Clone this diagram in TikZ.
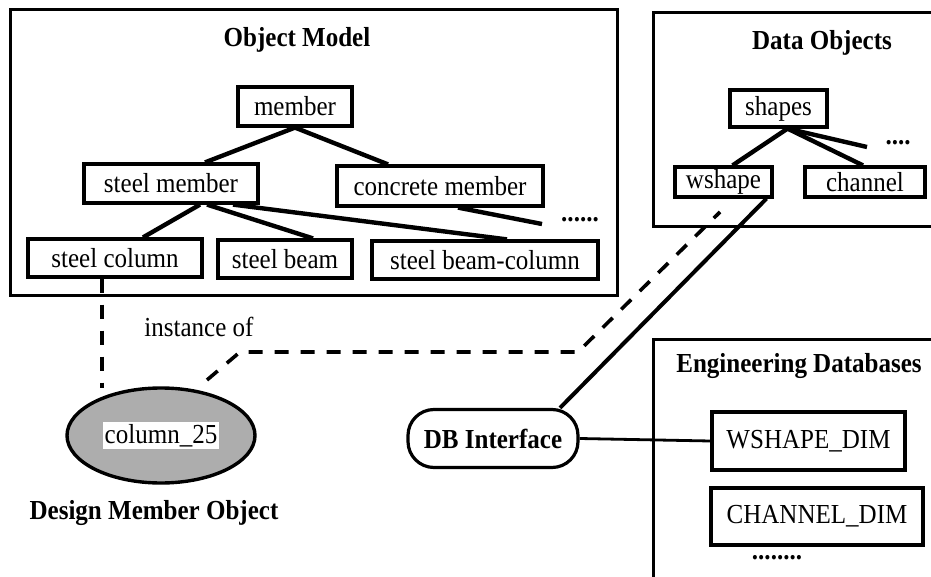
\documentclass[tikz,border=0pt]{standalone}
\usepackage{fontspec}
\setmainfont[FakeStretch=0.91]{Liberation Serif}
\usetikzlibrary{shapes.geometric,calc}
\begin{document}
\begin{tikzpicture}[x=1pt,y=-1pt,
  txt/.style={font=\fontsize{27.5}{30}\selectfont, inner sep=0pt},
  ttl/.style={font=\fontsize{27.5}{30}\selectfont\bfseries, inner sep=0pt},
  cls/.style={draw, line width=3.2pt, inner sep=0pt, font=\fontsize{27.5}{30}\selectfont},
  grp/.style={draw, line width=3pt},
  tree/.style={line width=4.4pt},
  inst/.style={line width=3.6pt, dash pattern=on 14pt off 12pt},
  link/.style={line width=4pt}]
\useasboundingbox (0,0) rectangle (931,577);
\clip (0,0) rectangle (931,577);
% group boxes
\draw[grp] (10,10) rectangle (617,295);
\draw[grp] (653,13) rectangle (945,227);
\draw[grp] (653,339) rectangle (945,600);
% titles
\node[ttl] (tOM) at (297,40) {Object Model};
\node[ttl] (tDO) at (822,43) {Data Objects};
\node[ttl] (tED) at (799,366) {Engineering Databases};
\node[ttl] (tDM) at (154,513) {Design Member Object};
\node[txt] (tIO) at (199,327) {instance of};
% object model nodes
\node[cls, minimum width=114pt, minimum height=39pt] (mem) at (295,106.5) {member};
\node[cls, minimum width=174pt, minimum height=39pt] (sm) at (171,183.5) {steel member};
\node[cls, minimum width=206pt, minimum height=40pt] (cm) at (440,186) {concrete member};
\node[cls, minimum width=174pt, minimum height=38pt] (sc) at (115,258) {steel column};
\node[cls, minimum width=134pt, minimum height=38pt] (sb) at (285,259) {steel beam};
\node[cls, minimum width=226pt, minimum height=38pt] (sbc) at (485,260) {steel beam-column};
\node[txt] (dots1) at (580,220) {\bfseries ......};
\coordinate (cmEnd) at (542,224);
% data objects
\node[cls, minimum width=97pt, minimum height=37pt] (shp) at (778.5,108.5) {shapes};
\node[cls, minimum width=97pt, minimum height=30pt] (ws) at (723.5,182) {wshape};
\node[cls, minimum width=120pt, minimum height=30pt] (ch) at (865,182) {channel};
\node[txt] (dots2) at (898,143) {\bfseries ....};
\coordinate (shEnd) at (867,147);
% engineering databases
\node[cls, minimum width=193pt, minimum height=58pt] (wd) at (808.5,441) {WSHAPE\_DIM};
\node[cls, minimum width=212pt, minimum height=57pt] (cd) at (817,516.5) {CHANNEL\_DIM};
\node[txt] (dots3) at (777,558) {\bfseries ........};
% DB interface
\node[draw, line width=3.2pt, rounded corners=26pt, minimum width=170pt, minimum height=58pt,
      inner sep=0pt, font=\fontsize{27.5}{30}\selectfont\bfseries] (dbi) at (493,438.5) {DB Interface};
% design member object
\node[ellipse, draw, line width=3.4pt, fill=black!32, minimum width=188pt, minimum height=95pt,
      inner sep=0pt] (col) at (161,435.5) {};
\node[fill=white, inner sep=2pt, font=\fontsize{27.5}{30}\selectfont] (colt) at (col.center) {column\_25};
% tree connectors
\draw[tree] (mem.south) -- ([xshift=34pt]sm.north);
\draw[tree] (mem.south) -- ([xshift=-52pt]cm.north);
\draw[tree] ([xshift=29pt]sm.south) -- ([xshift=28pt]sc.north);
\draw[tree] ([xshift=36pt]sm.south) -- ([xshift=28pt]sb.north);
\draw[tree] ([xshift=62pt]sm.south) -- ([xshift=22pt]sbc.north);
\draw[tree] ([xshift=18pt]cm.south) -- (cmEnd);
\draw[tree] ([xshift=9pt]shp.south) -- ([xshift=9pt]ws.north);
\draw[tree] ([xshift=9pt]shp.south) -- ([xshift=-2pt]ch.north);
\draw[tree] ([xshift=9pt]shp.south) -- (shEnd);
% instance-of dashed connectors
\coordinate (colTop) at (102,388);
\coordinate (dA) at (207,380);
\coordinate (dB) at (240,352);
\coordinate (dC) at (578,352);
\coordinate (dD) at (720,212);
\draw[inst] ([xshift=-13pt]sc.south) -- (colTop);
\draw[inst] (dA) -- (dB) -- (dC) -- (dD);
% DB links
\draw[link] ([xshift=43pt]ws.south) -- ([xshift=67pt]dbi.north);
\draw[line width=2.8pt] (dbi.east) -- (wd.west);
\end{tikzpicture}
\end{document}
